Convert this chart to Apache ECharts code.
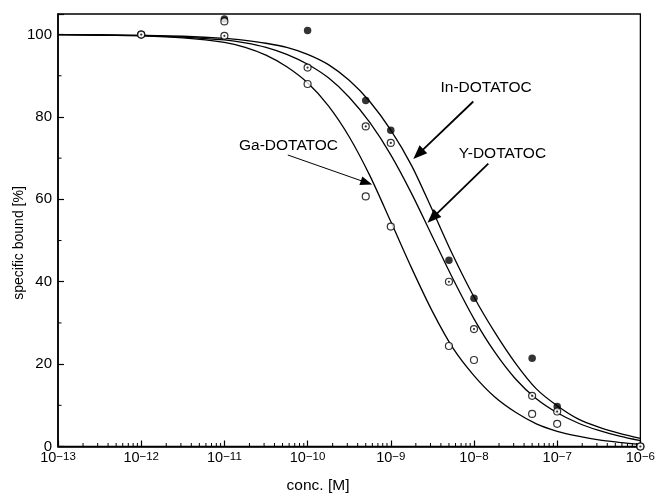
<!DOCTYPE html>
<html><head><meta charset="utf-8">
<script src="https://cdn.jsdelivr.net/npm/echarts@6/dist/echarts.min.js"></script>
<style>html,body{margin:0;padding:0;background:#fff}#c{width:658px;height:495px}</style>
</head><body><div id="c"></div>
<script>
// measured data points (concentration [M], specific bound [%])
const pointConc = [1e-12, 1e-11, 1e-10, 5e-10, 1e-9, 5e-9, 1e-8, 5e-8, 1e-7, 1e-6];
const gaPoints  = [100, 103.2, 88.0, 60.7, 53.4, 24.4, 21.0, 7.9, 5.5, 0];
const yPoints   = [100, 99.7, 92.0, 77.7, 73.7, 40.0, 28.5, 12.3, 8.5, 0];
const inPoints  = [100, 103.8, 101.0, 84.0, 76.8, 45.2, 36.0, 21.4, 9.7, 0];

// fitted curves at quarter-decade steps
const curveConc = [1e-13, 3.16e-13, 1e-12, 3.16e-12, 1e-11, 1.78e-11, 3.16e-11, 5.62e-11,
  1e-10, 1.78e-10, 3.16e-10, 5.62e-10, 1e-9, 1.78e-9, 3.16e-9, 5.62e-9,
  1e-8, 1.78e-8, 3.16e-8, 5.62e-8, 1e-7, 1.78e-7, 3.16e-7, 5.62e-7, 1e-6];
const inCurve = [100, 99.9, 99.8, 99.6, 99.1, 98.6, 97.9, 96.9, 95.2, 92.7, 88.9, 83.7, 76.8, 68.2, 57.4, 46.3, 36.3, 27.7, 20.2, 14.0, 9.9, 6.7, 4.7, 3.2, 2.0];
const yCurve  = [100, 99.9, 99.8, 99.4, 98.7, 98.0, 96.9, 95.2, 92.8, 89.5, 84.8, 78.6, 70.8, 61.4, 51.0, 40.6, 31.0, 22.9, 16.4, 11.6, 8.2, 5.7, 3.9, 2.5, 1.4];
const gaCurve = [100, 99.9, 99.7, 99.2, 98.1, 96.9, 95.0, 92.2, 88.3, 82.7, 75.2, 65.7, 54.6, 43.3, 32.8, 23.8, 17.2, 12.0, 8.3, 5.5, 3.7, 2.5, 1.6, 1.0, 0.5];

// axes
const xMin = 1e-13, xMax = 1e-6;
const yMin = 0, yMax = 105, yStep = 20;
const yTickLabels = [0, 20, 40, 60, 80, 100];
const yMinorTicks = [10, 30, 50, 70, 90];
const xDecadeExps = [-13, -12, -11, -10, -9, -8, -7];
const xMinorMult = [2, 3, 4, 5, 6, 7, 8, 9];

const FONT = '"Liberation Sans", Arial, sans-serif';
const xMinorTicks = [];
xDecadeExps.forEach(e => xMinorMult.forEach(m => xMinorTicks.push(m * Math.pow(10, e))));

const pairs = (xs, ys) => xs.map((x, i) => [x, ys[i]]);

function arrow(tail, tip, len, halfW, lw) {
  const dx = tip[0] - tail[0], dy = tip[1] - tail[1];
  const d = Math.hypot(dx, dy), ux = dx / d, uy = dy / d;
  const bx = tip[0] - ux * len, by = tip[1] - uy * len;
  return [
    {type: 'line', silent: true, shape: {x1: tail[0], y1: tail[1], x2: bx + ux * 2, y2: by + uy * 2},
     style: {stroke: '#000', lineWidth: lw}},
    {type: 'polygon', silent: true, shape: {points: [tip, [bx - uy * halfW, by + ux * halfW], [bx + uy * halfW, by - ux * halfW]]},
     style: {fill: '#000'}}
  ];
}

const chart = echarts.init(document.getElementById('c'), null, {renderer: 'canvas'});
const lineStyle = {color: '#000', width: 1.3};
const curveSeries = (name, ys) => ({
  name, type: 'line', data: pairs(curveConc, ys), showSymbol: false, smooth: 0.3,
  lineStyle, itemStyle: {color: '#000'}, silent: true, z: 2
});

chart.setOption({
  animation: false,
  backgroundColor: '#fff',
  textStyle: {fontFamily: FONT},
  grid: {left: 58, right: 12, top: 14, bottom: 48.5, show: true, borderColor: '#000', borderWidth: 1.3},
  xAxis: {
    type: 'log', logBase: 10, min: xMin, max: xMax, splitNumber: 7,
    axisLine: {lineStyle: {color: '#000', width: 1.6}},
    axisTick: {inside: true, length: 6, lineStyle: {color: '#000', width: 1.2}},
    splitLine: {show: false},
    axisLabel: {
      margin: 4, color: '#000',
      formatter: v => '{b|10}{s|\u2212' + Math.abs(Math.round(Math.log10(v))) + '}',
      rich: {
        b: {fontSize: 14.5, lineHeight: 15, fontFamily: FONT, color: '#000'},
        s: {fontSize: 11.5, lineHeight: 11, verticalAlign: 'top', fontFamily: FONT, color: '#000'}
      }
    }
  },
  yAxis: {
    type: 'value', min: yMin, max: yMax, interval: yStep,
    axisLine: {show: true, lineStyle: {color: '#000', width: 1.6}},
    axisTick: {inside: true, length: 6, lineStyle: {color: '#000', width: 1.2}},
    splitLine: {show: false},
    axisLabel: {margin: 6, fontSize: 15, color: '#000',
      formatter: v => yTickLabels.indexOf(v) >= 0 ? String(v) : ''}
  },
  graphic: [
    {type: 'text', x: 318, y: 486, silent: true,
     style: {text: 'conc. [M]', font: '15.5px ' + FONT, fill: '#000', align: 'center', verticalAlign: 'middle'}},
    {type: 'text', x: 19, y: 243, rotation: Math.PI / 2, silent: true,
     style: {text: 'specific bound [%]', font: '14px ' + FONT, fill: '#000', align: 'center', verticalAlign: 'middle'}},
    {type: 'text', x: 440.5, y: 87.5, silent: true,
     style: {text: 'In-DOTATOC', font: '15.5px ' + FONT, fill: '#000', align: 'left', verticalAlign: 'middle'}},
    {type: 'text', x: 458.8, y: 153.5, silent: true,
     style: {text: 'Y-DOTATOC', font: '15.5px ' + FONT, fill: '#000', align: 'left', verticalAlign: 'middle'}},
    {type: 'text', x: 239, y: 146, silent: true,
     style: {text: 'Ga-DOTATOC', font: '15.5px ' + FONT, fill: '#000', align: 'left', verticalAlign: 'middle'}},
    ...arrow([473.3, 101.5], [413.3, 159], 14, 5.5, 1.8),
    ...arrow([488.3, 163.7], [427.5, 222.7], 14, 5.5, 1.8),
    ...arrow([287.8, 155], [372.2, 184.6], 12, 4.5, 1.0)
  ],
  series: [
    curveSeries('In-DOTATOC fit', inCurve),
    curveSeries('Y-DOTATOC fit', yCurve),
    curveSeries('Ga-DOTATOC fit', gaCurve),
    {name: 'In-DOTATOC', type: 'scatter', data: pairs(pointConc, inPoints), symbol: 'circle', symbolSize: 7.5,
     itemStyle: {color: '#000'}, z: 3, silent: true},
    {name: 'Ga-DOTATOC', type: 'scatter', data: pairs(pointConc, gaPoints), symbol: 'circle', symbolSize: 7,
     itemStyle: {color: '#fff', borderColor: '#000', borderWidth: 1.2}, z: 3, silent: true},
    {name: 'Y-DOTATOC', type: 'scatter', data: pairs(pointConc, yPoints), symbol: 'circle', symbolSize: 7,
     itemStyle: {color: '#fff', borderColor: '#000', borderWidth: 1.2}, z: 3, silent: true},
    {name: 'Y-DOTATOC centre', type: 'scatter', data: pairs(pointConc, yPoints), symbol: 'circle', symbolSize: 2.2,
     itemStyle: {color: '#000'}, z: 3, silent: true},
    {name: 'x minor ticks', type: 'custom', coordinateSystem: 'cartesian2d', silent: true, clip: false, z: 4,
     data: xMinorTicks.map(v => [v, yMin]),
     renderItem: (params, api) => {
       const p = api.coord([api.value(0), yMin]);
       return {type: 'line', shape: {x1: p[0], y1: p[1], x2: p[0], y2: p[1] - 3.5}, style: {stroke: '#000', lineWidth: 1}};
     }},
    {name: 'y minor ticks', type: 'custom', coordinateSystem: 'cartesian2d', silent: true, clip: false, z: 4,
     data: yMinorTicks.map(v => [xMin, v]),
     renderItem: (params, api) => {
       const p = api.coord([xMin, api.value(1)]);
       return {type: 'line', shape: {x1: p[0], y1: p[1], x2: p[0] + 3.5, y2: p[1]}, style: {stroke: '#000', lineWidth: 1}};
     }}
  ]
});
</script></body></html>
